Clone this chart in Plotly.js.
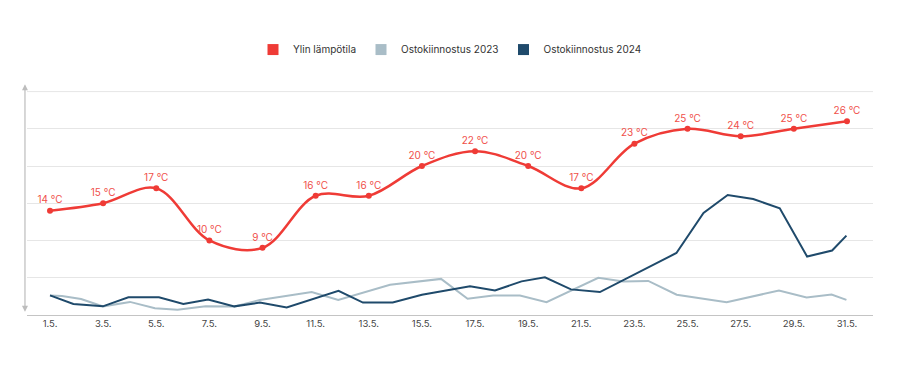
<!DOCTYPE html>
<html>
<head>
<meta charset="utf-8">
<script src="https://cdn.plot.ly/plotly-3.0.1.min.js"></script>
<style>
  html, body { margin: 0; padding: 0; background: #ffffff; }
  #chart { width: 905px; height: 379px; }
</style>
</head>
<body>
<div id="chart"></div>
<script>
// ---- Data ----
const tempDays = [1, 3, 5, 7, 9, 11, 13, 15, 17, 19, 21, 23, 25, 27, 29, 31];
const tickLabels = ['1.5.', '3.5.', '5.5.', '7.5.', '9.5.', '11.5.', '13.5.', '15.5.', '17.5.', '19.5.', '21.5.', '23.5.', '25.5.', '27.5.', '29.5.', '31.5.'];
const maxTemp = [14, 15, 17, 10, 9, 16, 16, 20, 22, 20, 17, 23, 25, 24, 25, 26];

const interest2023Days = [1.00, 1.45, 2.17, 3.00, 4.01, 4.95, 5.80, 6.86, 7.95, 8.90, 10.85, 11.85, 13.80, 15.72, 16.72, 17.68, 18.69, 19.69, 21.64, 22.58, 23.52, 24.59, 26.47, 28.44, 29.48, 30.42, 30.98];
const interest2023 = [8.7, 8.4, 7.1, 3.8, 5.8, 3.0, 2.3, 3.9, 3.7, 6.7, 10.2, 6.7, 13.5, 16.1, 7.2, 8.7, 8.7, 5.7, 16.6, 14.9, 15.2, 9.0, 5.6, 10.9, 7.8, 9.1, 6.7];

const interest2024Days = [1.00, 1.88, 2.99, 3.95, 5.10, 6.02, 6.95, 7.94, 8.90, 9.91, 11.86, 12.78, 13.90, 15.00, 16.81, 17.75, 18.75, 19.63, 20.61, 21.70, 24.58, 25.60, 26.51, 27.47, 28.47, 29.50, 30.44, 30.98];
const interest2024 = [8.7, 4.9, 3.8, 7.9, 7.9, 4.9, 6.9, 3.8, 5.5, 3.3, 10.8, 5.5, 5.5, 9.0, 12.8, 10.9, 15.0, 16.8, 11.4, 10.2, 27.7, 45.6, 53.7, 51.9, 47.7, 26.1, 28.8, 35.5];

const seriesNames = ['Ylin lämpötila', 'Ostokiinnostus 2023', 'Ostokiinnostus 2024'];

// ---- Styles ----
const RED = '#ef3b36';
const RED_TEXT = '#f0504a';
const LIGHT = '#a9bdc7';
const DARK = '#1f4a6b';
const GRID = '#e6e6e6';
const FONT = 'Inter, "Open Sans", sans-serif';

const traces = [
  {
    x: interest2023Days, y: interest2023, yaxis: 'y2',
    type: 'scatter', mode: 'lines',
    line: { color: LIGHT, width: 2 },
    showlegend: false, hoverinfo: 'skip'
  },
  {
    x: interest2024Days, y: interest2024, yaxis: 'y2',
    type: 'scatter', mode: 'lines',
    line: { color: DARK, width: 2 },
    showlegend: false, hoverinfo: 'skip'
  },
  {
    x: tempDays, y: maxTemp,
    type: 'scatter', mode: 'lines+markers+text',
    line: { color: RED, width: 2.5, shape: 'spline', smoothing: 1 },
    marker: { color: RED, size: 6 },
    text: maxTemp.map(t => t + ' °C'),
    textposition: 'top center',
    textfont: { family: FONT, size: 10, color: RED_TEXT },
    showlegend: false, cliponaxis: false
  },
  // legend swatches
  { x: [null], y: [null], type: 'scatter', mode: 'markers', name: seriesNames[0],
    marker: { symbol: 'square', size: 11, color: RED } },
  { x: [null], y: [null], type: 'scatter', mode: 'markers', name: seriesNames[1],
    marker: { symbol: 'square', size: 11, color: LIGHT } },
  { x: [null], y: [null], type: 'scatter', mode: 'markers', name: seriesNames[2],
    marker: { symbol: 'square', size: 11, color: DARK } }
];

const layout = {
  width: 905, height: 379,
  margin: { l: 27, r: 32, t: 91, b: 64 },
  paper_bgcolor: '#ffffff', plot_bgcolor: '#ffffff',
  font: { family: FONT, size: 10, color: '#333333' },
  showlegend: true,
  legend: {
    orientation: 'h', x: 0.5, xanchor: 'center', y: 1.185, yanchor: 'middle',
    font: { family: FONT, size: 10, color: '#333333' },
    itemclick: false, itemdoubleclick: false
  },
  xaxis: {
    range: [0.134, 31.98],
    tickmode: 'array', tickvals: tempDays, ticktext: tickLabels,
    showgrid: false, zeroline: false,
    showline: true, linecolor: '#c4c4c4', linewidth: 1,
    ticks: '', tickfont: { family: FONT, size: 9.5, color: '#444444' },
    fixedrange: true
  },
  yaxis: {
    range: [-0.02, 30.08], dtick: 5, tick0: 0,
    showgrid: true, gridcolor: GRID, gridwidth: 1,
    zeroline: false, showticklabels: false, ticks: '', showline: false,
    fixedrange: true
  },
  yaxis2: {
    range: [-0.07, 100.27], overlaying: 'y', visible: false, fixedrange: true
  },
  shapes: [{
    type: 'line', xref: 'paper', yref: 'y', x0: 0, x1: 1, y0: 30, y1: 30,
    line: { color: GRID, width: 1 }, layer: 'below'
  }],
  annotations: [{
    xref: 'paper', yref: 'paper', axref: 'paper', ayref: 'paper',
    x: -0.0024, y: 1.03, ax: -0.0024, ay: 0.008,
    text: '', showarrow: true, arrowside: 'end+start',
    arrowhead: 2, arrowsize: 1, arrowwidth: 1.2, arrowcolor: '#bdbdbd',
    standoff: 0, startstandoff: 0
  }]
};

Plotly.newPlot('chart', traces, layout, { displayModeBar: false, staticPlot: true });
</script>
</body>
</html>
